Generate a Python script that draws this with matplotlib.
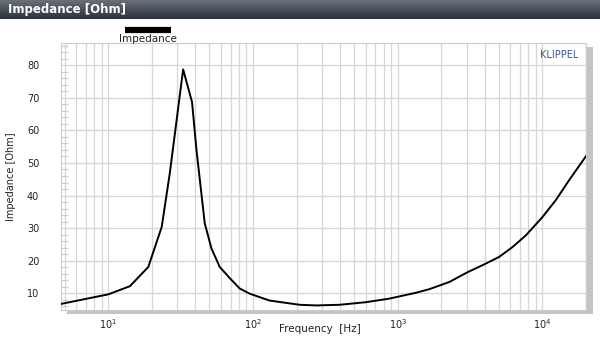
import numpy as np
import matplotlib
matplotlib.use('Agg')
import matplotlib.pyplot as plt
from matplotlib.patches import Rectangle
from matplotlib.ticker import FixedLocator, MultipleLocator, NullFormatter

# impedance curve
freq = [4.75, 10, 14.1, 18.9, 23.4, 26.6, 32.9, 37.9, 40.7, 46.4, 51.6, 58.9,
        69, 80.9, 94.9, 130, 210, 274, 396, 605, 877, 1340, 1656, 2275, 3041,
        3963, 5027, 6210, 7685, 10000, 12370, 15280, 20000]
imp = [6.8, 9.7, 12.2, 18.1, 30.4, 46.8, 78.7, 68.7, 53.9, 31.5, 23.8, 18.1,
       14.7, 11.5, 9.9, 7.8, 6.5, 6.3, 6.5, 7.3, 8.4, 10.2, 11.3, 13.5, 16.5,
       18.9, 21.2, 24.2, 27.8, 33.4, 38.6, 44.7, 52.1]

x_major = [10, 100, 1000, 10000]
x_labels = ['$10^{1}$', '$10^{2}$', '$10^{3}$', '$10^{4}$']
y_major = [10, 20, 30, 40, 50, 60, 70, 80]

W, H = 600, 337
fig = plt.figure(figsize=(6, 3.37), dpi=100)
fig.patch.set_facecolor('white')

# title bar with gradient
bar_h = 19
tax = fig.add_axes([0, 1 - bar_h / H, 1, bar_h / H])
grad = np.linspace(0, 1, 50).reshape(-1, 1)
cmap = matplotlib.colors.LinearSegmentedColormap.from_list('bar', ['#6a707a', '#2c323c'])
tax.imshow(grad, aspect='auto', cmap=cmap, extent=[0, 1, 0, 1])
tax.set_axis_off()
tax.text(8 / W, 0.5, 'Impedance [Ohm]', color='white', fontsize=8.5, fontweight='bold',
         va='center', ha='left', transform=tax.transAxes)

# plot area
left, right, top, bottom = 61.5, 586, 43, 310
pos = [left / W, (H - bottom) / H, (right - left) / W, (bottom - top) / H]

# drop shadow, behind the axes
shadow = Rectangle(((left + 5) / W, (H - bottom - 4) / H), (right - left + 2) / W,
                   (bottom - top) / H, transform=fig.transFigure,
                   facecolor='#c4c4c4', edgecolor='none', zorder=-5)
fig.patches.append(shadow)

ax = fig.add_axes(pos)
ax.set_zorder(1)
ax.set_facecolor('white')
ax.set_xscale('log')
ax.set_xlim(4.75, 20000)
ax.set_ylim(4.9, 86.8)

ax.plot(freq, imp, color='black', linewidth=1.4, zorder=3)

ax.xaxis.set_major_locator(FixedLocator(x_major))
ax.set_xticklabels(x_labels)
ax.xaxis.set_minor_formatter(NullFormatter())
ax.set_yticks(y_major)
ax.yaxis.set_minor_locator(MultipleLocator(2))
ax.grid(True, which='both', axis='x', color='#d6d6d6', linewidth=0.9)
ax.grid(True, which='major', axis='y', color='#d6d6d6', linewidth=0.9)
ax.tick_params(axis='both', which='major', length=0, labelsize=7, labelcolor='#222222')
ax.tick_params(axis='x', which='minor', length=0)
ax.tick_params(axis='y', which='minor', direction='in', length=5, color='#cccccc', width=0.8)
ax.tick_params(axis='y', pad=16)
ax.tick_params(axis='x', pad=5)
for s in ax.spines.values():
    s.set_color('#cccccc')
    s.set_linewidth(0.8)

fig.text(320 / W, 1 - 329 / H, 'Frequency  [Hz]', ha='center', va='center',
         fontsize=7.5, color='#222222')
ax.set_ylabel('Impedance [Ohm]', fontsize=7, color='#222222', labelpad=8)

ax.text(0.985, 0.955, 'KLIPPEL', transform=ax.transAxes, ha='right', va='center',
        fontsize=7, color='#3a56a0')

# legend: thick bar with text below
fig.add_artist(plt.Line2D([125 / W, 171 / W], [1 - 30 / H, 1 - 30 / H], color='black',
                          linewidth=4.5, solid_capstyle='butt', transform=fig.transFigure))
fig.text(148 / W, 1 - 39 / H, 'Impedance', ha='center', va='center', fontsize=7.5,
         color='#222222')

fig.savefig('out.png', dpi=100)
